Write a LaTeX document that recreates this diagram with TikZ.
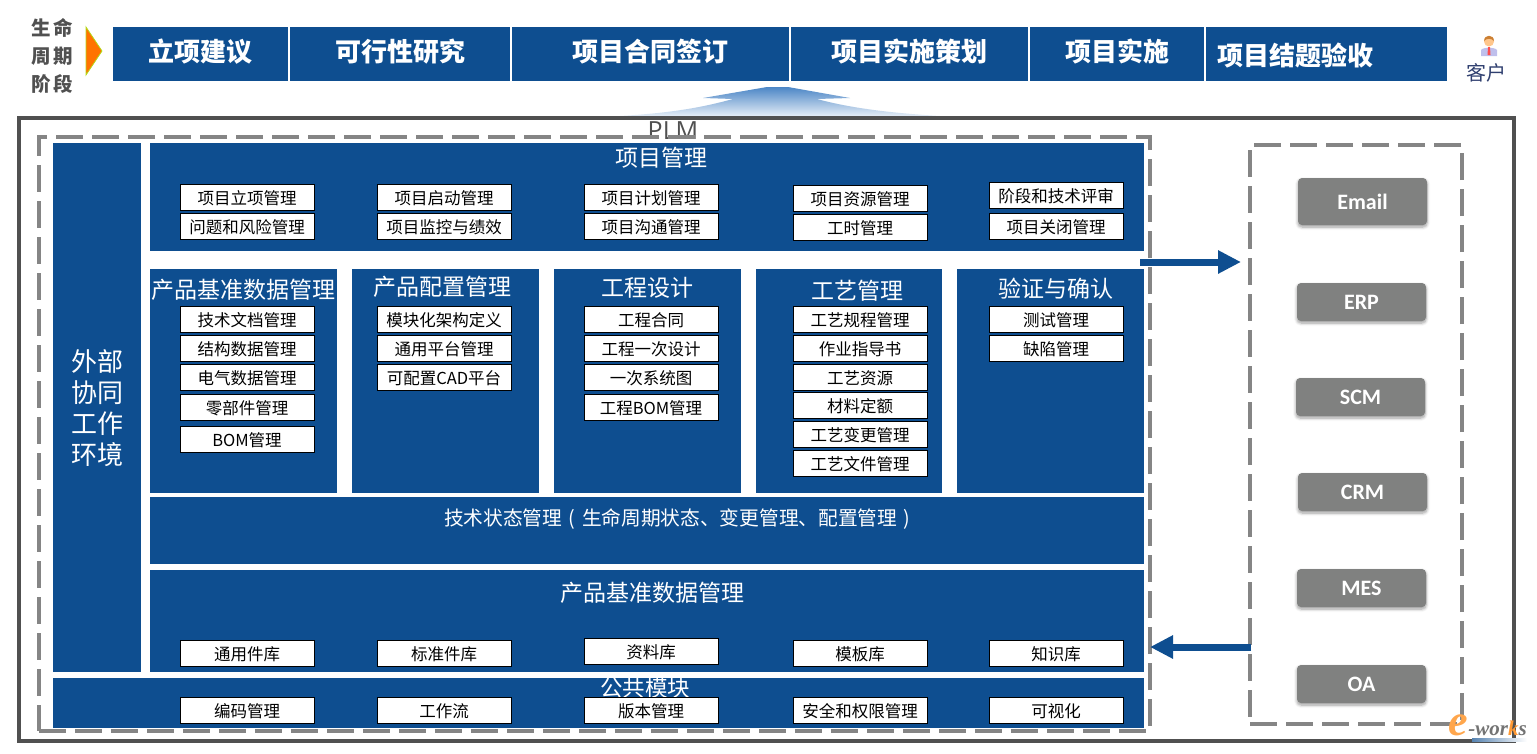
\documentclass[tikz,border=0pt]{standalone}
\usepackage{fontspec}
\setmainfont{Noto Sans CJK SC}
\newfontfamily\btnfont{Carlito}
\newfontfamily\logofont{Liberation Serif}
\newfontfamily\plmfont{Open Sans}
\usepackage{tikz}
\usetikzlibrary{positioning,arrows.meta,shapes.geometric,shadows.blur}
\definecolor{plmblue}{HTML}{0E4E90}
\definecolor{dashgray}{HTML}{858585}
\definecolor{btngray}{HTML}{808180}
\definecolor{framegray}{HTML}{505050}
\definecolor{custblue}{HTML}{2F3F6F}
\definecolor{uparrow}{HTML}{4C86C6}

\begin{document}
\begin{tikzpicture}[
  x=1pt, y=-1pt,
  phase/.style={fill=plmblue, text=white, anchor=north west, inner sep=0pt, outer sep=0pt, minimum width=#1, minimum height=54pt, text height=20pt, text depth=5pt, font=\fontsize{26}{28}\selectfont\bfseries},
  panel/.style={fill=plmblue, anchor=north west, inner sep=0pt, outer sep=0pt},
  title/.style={text=white, inner sep=0pt, font=\fontsize{23}{25}\selectfont},
  box/.style={draw=black, fill=white, line width=1pt, anchor=north west, inner sep=0pt, outer sep=0pt, minimum width=134pt, minimum height=26pt, text height=16pt, text depth=2pt, font=\fontsize{16.5}{18}\selectfont},
  dashbox/.style={draw=dashgray, line width=4.5pt, dash pattern=on 27pt off 9pt, anchor=north west, inner sep=0pt, outer sep=0pt},
  btn/.style={fill=btngray, text=white, rounded corners=4pt, anchor=north west, inner sep=0pt, outer sep=0pt, minimum width=129pt, minimum height=38pt, font=\btnfont\fontsize{22}{24}\selectfont\bfseries, blur shadow={shadow blur steps=6, shadow xshift=0pt, shadow yshift=-2pt, shadow blur radius=3pt}},
  lbl/.style={text=framegray, inner sep=0pt, font=\fontsize{19.5}{22}\selectfont\bfseries},
  arr/.style={-{Triangle[length=23pt, width=22pt]}, line width=7pt, draw=plmblue}
]
\useasboundingbox (0,0) rectangle (1537,753);

% life cycle band
\node[lbl] (lc1) at (52,28) {生\hspace{3pt}命};
\node[lbl] (lc2) at (52,56) {周\hspace{3pt}期};
\node[lbl] (lc3) at (52,84) {阶\hspace{3pt}段};
\node[isosceles triangle, isosceles triangle stretches=true, fill=orange!90!red, draw=yellow!70!green, line width=.8pt, inner sep=0pt, outer sep=0pt, minimum width=48pt, minimum height=16pt, anchor=apex] (lcarrow) at (102,51) {};

\node[phase=175pt] (ph1) at (113,27) {立项建议};
\node[phase=220pt, right=2pt of ph1] (ph2) {可行性研究};
\node[phase=277pt, right=2pt of ph2] (ph3) {项目合同签订};
\node[phase=237pt, right=2pt of ph3] (ph4) {项目实施策划};
\node[phase=174pt, right=2pt of ph4] (ph5) {项目实施};
\node[phase=241pt, right=2pt of ph5] (ph6) {};
\node[text=white, inner sep=0pt, anchor=west, font=\fontsize{26}{28}\selectfont\bfseries] (ph6txt) at (1217,55) {项目结题验收};

% customer
\fill[fill=black!30!blue!25!white] (1481,56) -- (1481,50) .. controls (1483,47) and (1495,47) .. (1497,50) -- (1497,56) -- cycle;
\fill[red!70!white] (1488,47) -- (1490,47) -- (1490.5,55) -- (1487.5,55) -- cycle;
\fill[orange!45!white] (1489,41.5) circle (5pt);
\fill[brown!80!orange] (1484,41) .. controls (1484,34) and (1494,34) .. (1494,41) .. controls (1491,38) and (1487,38) .. (1484,41) -- cycle;
\node[text=custblue, inner sep=0pt, font=\fontsize{20}{22}\selectfont] (cust) at (1486,73) {客户};

% up arrow
\shade[top color=uparrow, middle color=uparrow!90!white, bottom color=uparrow!15!white] (767,87) -- (703,98) -- (733,99) .. controls (700,108) and (670,113) .. (620,116) -- (940,116) .. controls (890,113) and (850,108) .. (817,99) -- (850,98) -- (788,87) -- cycle;

% frames
\node[draw=framegray, line width=4pt, anchor=north west, inner sep=0pt, outer sep=0pt, minimum width=1495pt, minimum height=623pt] (frame) at (19,118) {};
\node[text=framegray, inner sep=0pt, font=\plmfont\fontsize{25}{27}\selectfont] (plmtxt) at (673,131) {PLM};

\coordinate (outstart) at (1140,262);
\coordinate (outend) at (1241,262);
\coordinate (instart) at (1251,647);
\coordinate (inend) at (1150,647);
\draw[arr] (outstart) -- (outend);

\node[dashbox, minimum width=1111pt, minimum height=594pt] (plm) at (39,137) {};
\node[dashbox, minimum width=212pt, minimum height=579pt] (ext) at (1250,145) {};
\draw[arr] (instart) -- (inend);

% panels
\node[panel, minimum width=88pt, minimum height=529pt] (outer) at (53,143) {};
\node[text=white, inner sep=0pt, align=center, font=\fontsize{26}{31}\selectfont] (outertxt) at (97,408) {外部\\协同\\工作\\环境};
\node[panel, minimum width=994pt, minimum height=108pt] (pm) at (150,143) {};
\node[panel, minimum width=187pt, minimum height=224pt] (pdm) at (150,269) {};
\node[panel, minimum width=187pt, minimum height=224pt] (cfg) at (352,269) {};
\node[panel, minimum width=187pt, minimum height=224pt] (eng) at (554,269) {};
\node[panel, minimum width=186pt, minimum height=224pt] (proc) at (756,269) {};
\node[panel, minimum width=187pt, minimum height=224pt] (vv) at (957,269) {};
\node[panel, minimum width=994pt, minimum height=67pt] (tech) at (150,497) {};
\node[panel, minimum width=994pt, minimum height=102pt] (base) at (150,570) {};
\node[panel, minimum width=1091pt, minimum height=50pt] (pub) at (53,678) {};

\node[title] (pmtxt) at (661,158) {项目管理};
\node[title] (pdmtxt) at (243,290) {产品基准数据管理};
\node[title] (cfgtxt) at (442,287) {产品配置管理};
\node[title] (engtxt) at (647,288) {工程设计};
\node[title] (proctxt) at (857,291) {工艺管理};
\node[title] (vvtxt) at (1056,289) {验证与确认};
\node[title, font=\fontsize{19.7}{22}\selectfont] (techtxt) at (680.5,519) {技术状态管理\makebox[19.7pt]{(}生命周期状态、变更管理、配置管理\makebox[19.7pt]{)}};
\node[title] (basetxt) at (652,593) {产品基准数据管理};
\node[title, font=\fontsize{22.5}{25}\selectfont] (pubtxt) at (645,688) {公共模块};

% project management
\node[box] (pm1) at (180,184) {项目立项管理};
\node[box, below=3pt of pm1] (pm2) {问题和风险管理};
\node[box] (pm3) at (377,184) {项目启动管理};
\node[box, below=3.5pt of pm3] (pm4) {项目监控与绩效};
\node[box] (pm5) at (584,184) {项目计划管理};
\node[box, below=3.5pt of pm5] (pm6) {项目沟通管理};
\node[box] (pm7) at (793,185) {项目资源管理};
\node[box, below=3pt of pm7] (pm8) {工时管理};
\node[box] (pm9) at (989,182) {阶段和技术评审};
\node[box, below=5pt of pm9] (pm10) {项目关闭管理};

% product data
\node[box] (pdm1) at (180,306) {技术文档管理};
\node[box, below=3.5pt of pdm1] (pdm2) {结构数据管理};
\node[box, below=3pt of pdm2] (pdm3) {电气数据管理};
\node[box, below=4pt of pdm3] (pdm4) {零部件管理};
\node[box, below=6pt of pdm4] (pdm5) {BOM管理};

% configuration
\node[box] (cfg1) at (377,306) {模块化架构定义};
\node[box, below=3.5pt of cfg1] (cfg2) {通用平台管理};
\node[box, below=3pt of cfg2] (cfg3) {可配置CAD平台};

% engineering
\node[box] (eng1) at (584,306) {工程合同};
\node[box, below=3.5pt of eng1] (eng2) {工程一次设计};
\node[box, below=3pt of eng2] (eng3) {一次系统图};
\node[box, below=4pt of eng3] (eng4) {工程BOM管理};

% process
\node[box] (proc1) at (793,306) {工艺规程管理};
\node[box, below=3.5pt of proc1] (proc2) {作业指导书};
\node[box, below=3pt of proc2] (proc3) {工艺资源};
\node[box, below=2pt of proc3] (proc4) {材料定额};
\node[box, below=3pt of proc4] (proc5) {工艺变更管理};
\node[box, below=3pt of proc5] (proc6) {工艺文件管理};

% verification
\node[box] (vv1) at (989,306) {测试管理};
\node[box, below=3.5pt of vv1] (vv2) {缺陷管理};

% libraries
\node[box] (lib1) at (180,640.5) {通用件库};
\node[box] (lib2) at (377,640.5) {标准件库};
\node[box] (lib3) at (584,638.5) {资料库};
\node[box] (lib4) at (793,640.5) {模板库};
\node[box] (lib5) at (989,640.5) {知识库};

% common modules
\node[box] (pub1) at (180,697.5) {编码管理};
\node[box] (pub2) at (377,697.5) {工作流};
\node[box] (pub3) at (584,697.5) {版本管理};
\node[box] (pub4) at (793,697.5) {安全和权限管理};
\node[box] (pub5) at (989,697.5) {可视化};

% external systems
\node[btn, minimum height=47pt] (email) at (1298,178) {Email};
\node[btn] (erp) at (1297,283) {ERP};
\node[btn] (scm) at (1296,378) {SCM};
\node[btn] (crm) at (1298,473) {CRM};
\node[btn] (mes) at (1297,569) {MES};
\node[btn] (oa) at (1297,665) {OA};

% logo
\shade[left color=plmblue!70!white, right color=white] (1472,738) rectangle (1527,741);
\node[inner sep=0pt, anchor=base east, text=black!55, font=\logofont\fontsize{21}{23}\selectfont\bfseries\itshape] (logo) at (1527,735) {\textcolor{orange!70!white}{\fontsize{44}{44}\selectfont e}-wor\textcolor{orange!80!white}{k}s};
\end{tikzpicture}
\end{document}
